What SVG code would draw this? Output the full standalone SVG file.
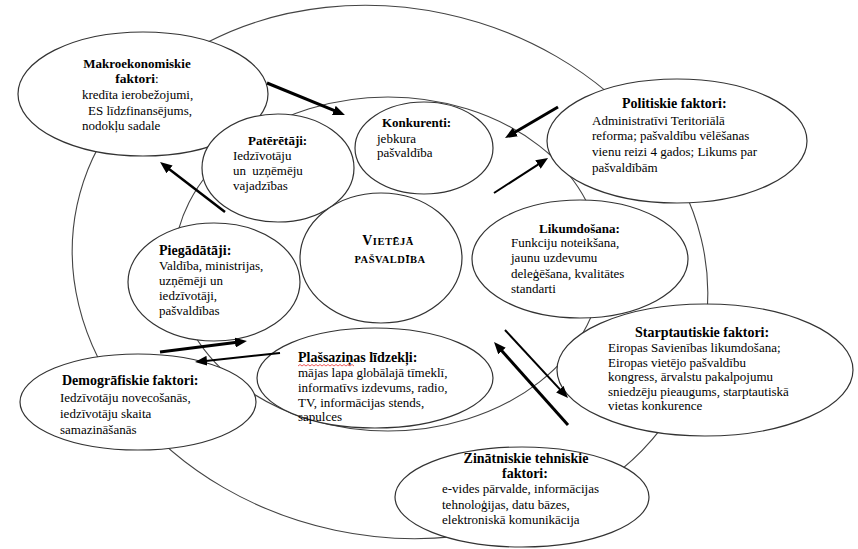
<svg xmlns="http://www.w3.org/2000/svg" width="858" height="549" viewBox="0 0 858 549">
<style>
.ring{fill:#fff;stroke:#444;stroke-width:1.1}
.nd{fill:#fff;stroke:#333;stroke-width:1.2}
text{font-family:'Liberation Serif','Times New Roman',serif;fill:#000}
.h{font-weight:bold;font-size:14px}
.hs{font-weight:bold;font-size:13px}
.b{font-size:13px}
.c{text-anchor:middle}
.ar{stroke:#000;fill:none;marker-end:url(#ah)}
</style>
<defs>
<marker id="ah" markerUnits="userSpaceOnUse" markerWidth="12" markerHeight="10" refX="6" refY="5" orient="auto">
<path d="M0,0 L12,5 L0,10 z" fill="#000"/>
</marker>
</defs>
<rect width="858" height="549" fill="#fff"/>
<g id="rings">
<ellipse class="ring" cx="390" cy="272" rx="320" ry="264" transform="rotate(12 390 272)"/>
<ellipse class="ring" cx="388" cy="264" rx="214" ry="167"/>
</g>
<g id="makro">
<ellipse class="nd" cx="143" cy="94" rx="125" ry="62"/>
<text class="hs c" x="137" y="68" font-size="13.5">Makroekonomiskie</text>
<text class="b c" x="137" y="83"><tspan font-weight="bold" font-size="13.5">faktori</tspan>:</text>
<text class="b" x="82" y="99">kredīta ierobežojumi,</text>
<text class="b" x="88" y="114.5">ES līdzfinansējums,</text>
<text class="b" x="82" y="130">nodokļu sadale</text>
</g>
<g id="pateretaji">
<ellipse class="nd" cx="278" cy="168" rx="76" ry="54"/>
<text class="hs" x="248" y="145">Patērētāji:</text>
<text class="b" x="233" y="160">Iedzīvotāju</text>
<text class="b" x="233" y="175" word-spacing="3">un uzņēmēju</text>
<text class="b" x="233" y="190">vajadzības</text>
</g>
<g id="konkurenti">
<ellipse class="nd" cx="424" cy="148" rx="69" ry="46"/>
<text class="hs" x="382" y="127" font-size="13.5">Konkurenti:</text>
<text class="b" x="377" y="143">jebkura</text>
<text class="b" x="377" y="157">pašvaldība</text>
</g>
<g id="politiskie">
<ellipse class="nd" cx="677" cy="141" rx="130" ry="62"/>
<text class="h" x="622" y="108">Politiskie faktori:</text>
<text class="b" x="592" y="125">Administratīvi Teritoriālā</text>
<text class="b" x="592" y="140">reforma; pašvaldību vēlēšanas</text>
<text class="b" x="592" y="156">vienu reizi 4 gados; Likums par</text>
<text class="b" x="592" y="172">pašvaldībām</text>
</g>
<g id="vieteja">
<ellipse class="nd" cx="381" cy="258" rx="81" ry="65"/>
<text class="c" x="388" y="245" font-weight="bold" letter-spacing="0.5"><tspan font-size="14">V</tspan><tspan font-size="10.5">IETĒJĀ</tspan></text>
<text class="c" x="390" y="263" font-weight="bold" font-size="10.5" letter-spacing="0.5">PAŠVALDĪBA</text>
</g>
<g id="piegadataji">
<ellipse class="nd" cx="214" cy="282" rx="86" ry="59"/>
<text class="h" x="159" y="255" font-size="14.5">Piegādātāji:</text>
<text class="b" x="159" y="270">Valdība, ministrijas,</text>
<text class="b" x="159" y="285">uzņēmēji un</text>
<text class="b" x="159" y="300">iedzīvotāji,</text>
<text class="b" x="159" y="315">pašvaldības</text>
</g>
<g id="likumdosana">
<ellipse class="nd" cx="580" cy="259" rx="108" ry="59"/>
<text class="hs" x="539" y="233">Likumdošana:</text>
<text class="b" x="511" y="247">Funkciju noteikšana,</text>
<text class="b" x="511" y="262">jaunu uzdevumu</text>
<text class="b" x="511" y="278">deleģēšana, kvalitātes</text>
<text class="b" x="511" y="293">standarti</text>
</g>
<g id="starptautiskie">
<ellipse class="nd" cx="705" cy="370" rx="148" ry="66"/>
<text class="h" x="635" y="337">Starptautiskie faktori:</text>
<text class="b" x="608" y="352">Eiropas Savienības likumdošana;</text>
<text class="b" x="608" y="366.5">Eiropas vietējo pašvaldību</text>
<text class="b" x="608" y="381">kongress, ārvalstu pakalpojumu</text>
<text class="b" x="608" y="395.5">sniedzēju pieaugums, starptautiskā</text>
<text class="b" x="608" y="410">vietas konkurence</text>
</g>
<g id="plassazinas">
<ellipse class="nd" cx="375" cy="378" rx="118" ry="50"/>
<text class="h" x="298" y="362">Plašsaziņas līdzekļi:</text>
<path d="M298,366 l2,-1.5 l2,1.5 l2,-1.5 l2,1.5 l2,-1.5 l2,1.5 l2,-1.5 l2,1.5 l2,-1.5 l2,1.5 l2,-1.5 l2,1.5 l2,-1.5 l2,1.5 l2,-1.5 l2,1.5 l2,-1.5 l2,1.5 l2,-1.5 l2,1.5 l2,-1.5 l2,1.5 l2,-1.5 l2,1.5 l2,-1.5 l2,1.5 l2,-1.5 l2,1.5" fill="none" stroke="#e33" stroke-width="0.8"/>
<text class="b" x="298" y="377">mājas lapa globālajā tīmeklī,</text>
<text class="b" x="298" y="392">informatīvs izdevums, radio,</text>
<text class="b" x="298" y="407">TV, informācijas stends,</text>
<text class="b" x="298" y="421">sapulces</text>
</g>
<g id="demografiskie">
<ellipse class="nd" cx="138" cy="402" rx="118" ry="48"/>
<text class="h" x="62" y="385">Demogrāfiskie faktori:</text>
<text class="b" x="60" y="402">Iedzīvotāju novecošanās,</text>
<text class="b" x="60" y="418">iedzīvotāju skaita</text>
<text class="b" x="60" y="434">samazināšanās</text>
</g>
<g id="zinatniskie">
<ellipse class="nd" cx="522" cy="497" rx="127" ry="50"/>
<text class="h c" x="526" y="463">Zinātniskie tehniskie</text>
<text class="h c" x="525" y="478">faktori:</text>
<text class="b" x="442" y="493">e-vides pārvalde, informācijas</text>
<text class="b" x="442" y="508.5">tehnoloģijas, datu bāzes,</text>
<text class="b" x="442" y="524">elektroniskā komunikācija</text>
</g>
<g id="connectors">
<line class="ar" x1="267" y1="83" x2="339.4" y2="112.7" stroke-width="3"/>
<line class="ar" x1="558" y1="107" x2="510.2" y2="135" stroke-width="3"/>
<line class="ar" x1="494" y1="193" x2="543" y2="161.3" stroke-width="2"/>
<line class="ar" x1="225" y1="212" x2="164.8" y2="165.7" stroke-width="2.5"/>
<line class="ar" x1="160" y1="352" x2="241" y2="341.8" stroke-width="3"/>
<line class="ar" x1="280" y1="353" x2="201" y2="361.4" stroke-width="2"/>
<line class="ar" x1="505" y1="330" x2="563.9" y2="393.6" stroke-width="2"/>
<line class="ar" x1="568" y1="425" x2="498" y2="346.5" stroke-width="3"/>
</g>
</svg>
